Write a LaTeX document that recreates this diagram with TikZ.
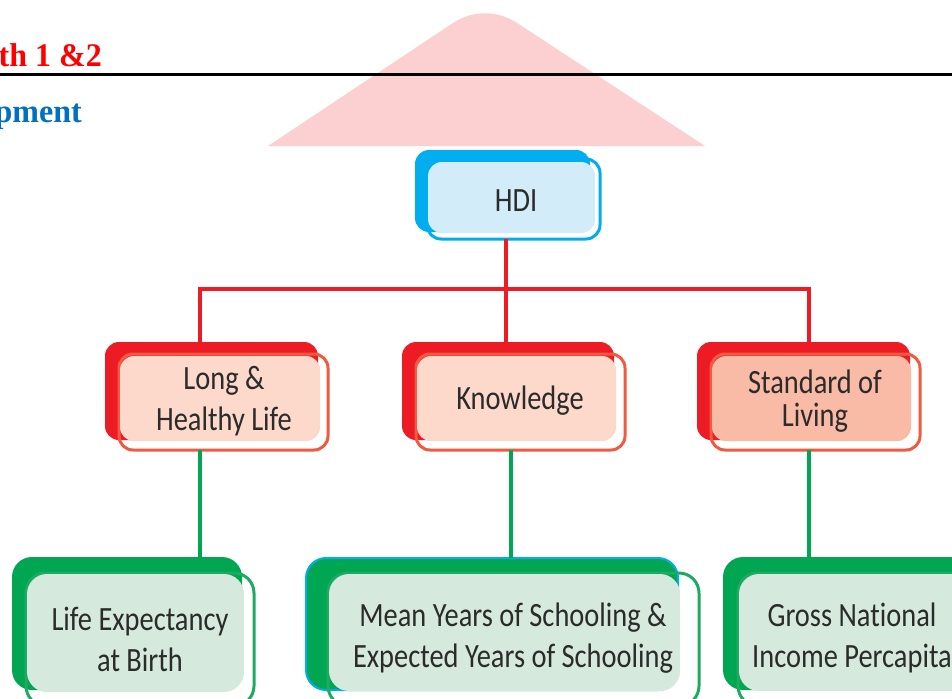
\documentclass[tikz,border=0pt]{standalone}
\usepackage{fontspec}
\setmainfont{Liberation Serif}
\newfontfamily\labelfont[FakeStretch=0.836,Ligatures=NoCommon]{Carlito}
\newfontfamily\hdrfont[FakeStretch=0.97]{Liberation Serif}
\definecolor{hdrred}{HTML}{FF0000}
\definecolor{hdrblue}{HTML}{0070C0}
\definecolor{tri}{HTML}{FCD0D0}
\definecolor{cblue}{HTML}{00AEEF}
\definecolor{cbluef}{HTML}{D2ECF9}
\definecolor{cred}{HTML}{ED1C24}
\definecolor{credo}{HTML}{F15A40}
\definecolor{credf}{HTML}{FCD9CB}
\definecolor{credg}{HTML}{F9BBA5}
\definecolor{cgreen}{HTML}{00A651}
\definecolor{cgreeno}{HTML}{1FAA63}
\definecolor{cgreenf}{HTML}{D5EADC}
\definecolor{ink}{HTML}{2B2B2B}
\newcommand{\bx}[6]{% style, name, x0, y0, x1, y1
  \pgfmathsetmacro{\mycx}{(#3+#5)/2}\pgfmathsetmacro{\mycy}{(#4+#6)/2}
  \pgfmathsetmacro{\myw}{#5-#3}\pgfmathsetmacro{\myh}{#6-#4}
  \node[#1,minimum width=\myw pt,minimum height=\myh pt] (#2) at (\mycx,\mycy) {};}
\tikzset{
  x=1pt,y=-1pt,
  plate/.style={rectangle,inner sep=0pt,outer sep=0pt,rounded corners=14pt},
  bigplate/.style={plate,rounded corners=20pt},
  lbl/.style={inner sep=0pt,align=center,text=ink,font=\labelfont\fontsize{34}{41}\selectfont},
  redlink/.style={draw=cred,line width=3.6pt},
  greenlink/.style={draw=cgreen,line width=3.6pt},
  hdr/.style={inner sep=0pt,anchor=base east,font=\hdrfont\bfseries\fontsize{33}{38}\selectfont}
}
\begin{document}
\begin{tikzpicture}
\useasboundingbox (0,0) rectangle (952,698);
\clip (0,0) rectangle (952,698);
\fill[white] (0,0) rectangle (952,698);
% pink triangle
\fill[tri] (268,146) -- (453,23) .. controls (473,10) and (497,10) .. (517,23) -- (705,146) -- cycle;
\draw[black,line width=2.4pt] (0,74.7) -- (952,74.7);
\node[hdr,text=hdrred] (title) at (102,67) {th 1 \&2};
\node[hdr,text=hdrblue] (sub) at (82,123) {pment};
% junction coordinates
\coordinate (hub) at (506,289);
\coordinate (dropa) at (200,342);
\coordinate (dropb) at (506,342);
\coordinate (dropc) at (809,342);
% HDI
\bx{plate,fill=cblue}{hdib}{415}{150}{590}{232}
\bx{plate,draw=cblue,line width=3pt}{hdio}{427}{159}{600}{239}
\bx{plate,fill=cbluef}{hdif}{428}{162}{595}{233}
% row 2
\bx{plate,fill=cred}{longb}{105}{342}{318}{440}
\bx{plate,draw=credo,line width=3pt}{longo}{119}{354}{328}{450}
\bx{plate,fill=credf}{longf}{120}{356}{320}{441}
\bx{plate,fill=cred}{knowb}{402}{342}{614}{440}
\bx{plate,draw=credo,line width=3pt}{knowo}{416}{354}{625}{450}
\bx{plate,fill=credf}{knowf}{417}{356}{616}{441}
\bx{plate,fill=cred}{stanb}{697}{342}{910}{440}
\bx{plate,draw=credo,line width=3pt}{stano}{711}{354}{920}{450}
\bx{plate,fill=credg}{stanf}{712}{356}{911}{441}
% row 3
\bx{bigplate,fill=cgreen}{lifeb}{12}{557}{242}{690}
\bx{bigplate,draw=cgreeno,line width=3pt}{lifeo}{26}{573}{254}{706}
\bx{bigplate,fill=cgreenf}{lifef}{27}{574}{244}{692}
\bx{bigplate,fill=cgreen,draw=cblue,line width=2pt}{meanb}{306}{558}{678}{690}
\bx{bigplate,draw=cgreeno,line width=3pt}{meano}{328}{573}{699}{706}
\bx{bigplate,fill=cgreenf}{meanf}{329}{574}{680}{691}
\bx{bigplate,fill=cgreen}{grosb}{723}{557}{1000}{690}
\bx{bigplate,draw=cgreeno,line width=3pt}{groso}{738}{573}{1010}{706}
\bx{bigplate,fill=cgreenf}{grosf}{739}{574}{1000}{691}
% connectors
\draw[redlink] (hub |- hdio.south) -- (hub);
\draw[redlink] (dropa) |- (hub);
\draw[redlink] (hub) -- (dropb);
\draw[redlink] (hub) -| (dropc);
\draw[greenlink] (dropa |- longo.south) -- (dropa |- lifeb.north);
\draw[greenlink] (knowo.south -| 511,0) -- (meanb.north -| 511,0);
\draw[greenlink] (dropc |- stano.south) -- (dropc |- grosb.north);
% labels
\node[lbl] (hdit) at (516,201) {HDI};
\node[lbl] (longt) at (224,401) {Long \&\\Healthy Life};
\node[lbl] (knowt) at (520,401) {Knowledge};
\node[lbl,font=\labelfont\fontsize{34}{33}\selectfont] (stant) at (815,401) {Standard of\\Living};
\node[lbl] (lifet) at (140,639) {Life Expectancy\\at Birth};
\node[lbl] (meant) at (513,638) {Mean Years of Schooling \&\\Expected Years of Schooling};
\node[lbl] (grost) at (852,638) {Gross National\\Income Percapita};
\end{tikzpicture}
\end{document}
